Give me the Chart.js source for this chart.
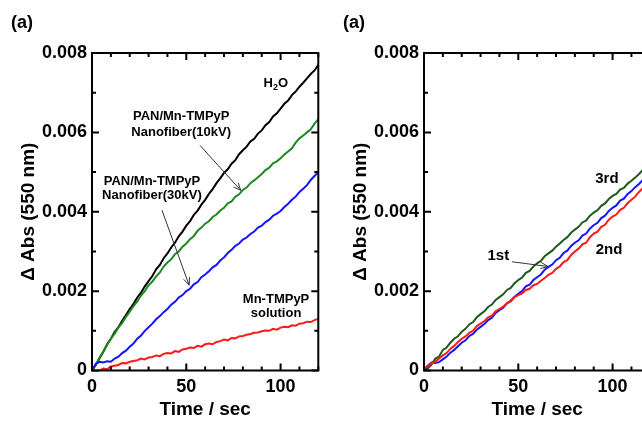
<!DOCTYPE html>
<html><head><meta charset="utf-8">
<script src="https://cdn.jsdelivr.net/npm/chart.js@4"></script>
<style>
html,body{margin:0;padding:0;width:642px;height:423px;overflow:hidden;background:#fff}
.wrap{position:absolute;top:0;width:330px;height:423px}
</style></head><body>
<div class="wrap" style="left:0"><canvas id="c1" width="330" height="423"></canvas></div>
<div class="wrap" style="left:332px"><canvas id="c2" width="330" height="423"></canvas></div>
<script>
// ---- data (ΔAbs values in units of 0.001) ----
const time = [0,2,4,6,8,10,12,14,16,18,20,22,24,26,28,30,32,34,36,38,40,42,44,46,48,50,52,54,56,58,60,
  62,64,66,68,70,72,74,76,78,80,82,84,86,88,90,92,94,96,98,100,102,104,106,108,110,112,114,116,118,120];

// left panel
const h2o = [0,0.14,0.31,0.47,0.66,0.80,0.97,1.09,1.25,1.40,1.55,1.68,1.84,1.96,2.12,2.25,2.38,2.55,2.66,2.83,2.95,
  3.10,3.22,3.38,3.50,3.65,3.76,3.92,4.03,4.18,4.30,4.45,4.57,4.72,4.84,4.98,5.07,5.21,5.30,5.45,5.55,
  5.64,5.77,5.84,5.97,6.05,6.18,6.26,6.40,6.48,6.60,6.72,6.80,6.94,7.03,7.15,7.25,7.36,7.47,7.56,7.70];
const fiber10kV = [0,0.15,0.32,0.48,0.64,0.80,0.93,1.08,1.20,1.35,1.48,1.62,1.74,1.89,2.00,2.15,2.24,2.37,2.47,2.62,2.72,
  2.80,2.93,3.00,3.12,3.20,3.31,3.39,3.52,3.60,3.70,3.76,3.87,3.93,4.03,4.10,4.21,4.26,4.38,4.44,4.55,
  4.61,4.72,4.79,4.87,4.95,5.05,5.11,5.22,5.27,5.35,5.44,5.52,5.60,5.74,5.85,5.92,6.00,6.08,6.22,6.33];
const fiber30kV = [0,0.17,0.22,0.20,0.23,0.22,0.30,0.35,0.44,0.50,0.60,0.68,0.80,0.88,1.00,1.09,1.18,1.29,1.37,1.47,1.55,
  1.66,1.73,1.84,1.90,2.00,2.06,2.17,2.23,2.35,2.42,2.50,2.60,2.66,2.77,2.85,2.96,3.04,3.14,3.20,3.30,
  3.35,3.44,3.50,3.60,3.65,3.74,3.80,3.90,3.95,4.02,4.12,4.20,4.30,4.38,4.50,4.58,4.67,4.80,4.90,5.00];
const solution = [-0.2,-0.1,0.0,0.05,0.03,0.10,0.12,0.14,0.19,0.18,0.22,0.24,0.26,0.30,0.28,0.33,0.34,0.38,0.36,0.42,0.44,
  0.43,0.49,0.47,0.53,0.55,0.58,0.57,0.62,0.60,0.66,0.68,0.66,0.72,0.74,0.78,0.76,0.82,0.81,0.86,0.87,
  0.90,0.92,0.95,0.96,0.99,1.01,1.00,1.05,1.03,1.08,1.10,1.09,1.14,1.13,1.18,1.19,1.23,1.22,1.27,1.30];

// right panel
const run1st = [0,0.12,0.20,0.19,0.21,0.28,0.35,0.45,0.52,0.61,0.70,0.76,0.87,0.92,1.03,1.10,1.17,1.27,1.33,1.45,1.52,
  1.58,1.69,1.76,1.86,1.93,2.00,2.12,2.16,2.28,2.35,2.42,2.54,2.61,2.67,2.78,2.84,2.96,3.02,3.14,3.22,
  3.28,3.40,3.45,3.58,3.66,3.72,3.84,3.90,4.02,4.10,4.16,4.28,4.33,4.45,4.52,4.62,4.70,4.80,4.86,4.95];
const run2nd = [0.05,0.12,0.18,0.22,0.30,0.38,0.44,0.55,0.62,0.72,0.80,0.86,0.95,1.00,1.12,1.18,1.24,1.34,1.38,1.49,1.55,
  1.61,1.70,1.74,1.85,1.90,1.94,2.03,2.06,2.15,2.18,2.26,2.33,2.41,2.46,2.56,2.62,2.73,2.78,2.91,3.00,
  3.07,3.18,3.22,3.36,3.45,3.50,3.62,3.67,3.80,3.88,3.93,4.05,4.10,4.22,4.30,4.38,4.50,4.59,4.66,4.75];
const run3rd = [0,0.05,0.15,0.30,0.35,0.52,0.58,0.70,0.80,0.86,0.98,1.05,1.16,1.22,1.34,1.42,1.49,1.60,1.66,1.78,1.85,
  1.92,2.03,2.08,2.20,2.28,2.34,2.46,2.51,2.62,2.70,2.76,2.88,2.95,3.02,3.12,3.20,3.29,3.36,3.47,3.55,
  3.62,3.73,3.78,3.90,3.98,4.04,4.15,4.21,4.32,4.40,4.45,4.56,4.60,4.71,4.78,4.86,4.95,5.05,5.12,5.20];

const xTickLabels = ['0','50','100'];
const yTickLabels = ['0','0.002','0.004','0.006','0.008'];
const xTitle = 'Time / sec';
const yTitle = 'Δ Abs (550 nm)';

// ---- helpers ----
const FONT = '"Liberation Sans", Arial, Helvetica, sans-serif';
Chart.defaults.color = '#000';
Chart.defaults.font.family = FONT;

const toPts = arr => arr.map((v, i) => ({x: time[i], y: v / 1000}));

function drawArrow(ctx, x1, y1, x2, y2) {
  ctx.save();
  ctx.strokeStyle = '#333'; ctx.lineWidth = 1;
  ctx.beginPath(); ctx.moveTo(x1, y1); ctx.lineTo(x2, y2); ctx.stroke();
  const ang = Math.atan2(y2 - y1, x2 - x1), L = 8, w = 0.4;
  ctx.beginPath();
  ctx.moveTo(x2 - L * Math.cos(ang - w), y2 - L * Math.sin(ang - w));
  ctx.lineTo(x2, y2);
  ctx.lineTo(x2 - L * Math.cos(ang + w), y2 - L * Math.sin(ang + w));
  ctx.stroke();
  ctx.restore();
}

const decor = {
  id: 'decor',
  afterDraw(chart, args, opts) {
    const {ctx, chartArea: a, scales: {x, y}} = chart;
    ctx.save();
    ctx.strokeStyle = '#000'; ctx.lineWidth = 2;
    ctx.beginPath();
    for (let v = 0; v <= 120; v += 10) {
      const px = x.getPixelForValue(v), L = v % 50 === 0 ? 7 : 4;
      ctx.moveTo(px, a.bottom); ctx.lineTo(px, a.bottom - L);
      ctx.moveTo(px, a.top); ctx.lineTo(px, a.top + L);
    }
    for (let i = 0; i <= 8; i++) {
      const py = y.getPixelForValue(i / 1000), L = i % 2 === 0 ? 7 : 4;
      ctx.moveTo(a.left, py); ctx.lineTo(a.left + L, py);
      ctx.moveTo(a.right, py); ctx.lineTo(a.right - L, py);
    }
    ctx.stroke();
    ctx.strokeRect(a.left, a.top, a.width, a.height);
    // panel label
    ctx.fillStyle = '#000';
    ctx.font = 'bold 18px ' + FONT;
    ctx.textAlign = 'left'; ctx.textBaseline = 'middle';
    ctx.fillText('(a)', 11, 23);
    // annotations
    (opts.texts || []).forEach(t => {
      ctx.font = 'bold ' + t.size + 'px ' + FONT;
      ctx.textAlign = 'center'; ctx.textBaseline = 'middle';
      const px = x.getPixelForValue(t.x), py = y.getPixelForValue(t.y / 1000);
      if (t.sub) {
        ctx.textAlign = 'left';
        const f1 = 'bold ' + t.size + 'px ' + FONT, f2 = 'bold ' + Math.round(t.size * 0.7) + 'px ' + FONT;
        ctx.font = f1; const w1 = ctx.measureText(t.text[0]).width, w3 = ctx.measureText(t.text[2]).width;
        ctx.font = f2; const w2 = ctx.measureText(t.text[1]).width;
        let sx = px - (w1 + w2 + w3) / 2;
        ctx.font = f1; ctx.fillText(t.text[0], sx, py);
        ctx.font = f2; ctx.fillText(t.text[1], sx + w1, py + 4);
        ctx.font = f1; ctx.fillText(t.text[2], sx + w1 + w2, py);
      } else {
        ctx.fillText(t.text, px, py);
      }
    });
    (opts.arrows || []).forEach(r => {
      drawArrow(ctx, x.getPixelForValue(r[0]), y.getPixelForValue(r[1] / 1000),
                     x.getPixelForValue(r[2]), y.getPixelForValue(r[3] / 1000));
    });
    ctx.restore();
  }
};

function makeChart(id, datasets, texts, arrows) {
  return new Chart(document.getElementById(id), {
    type: 'line',
    data: {datasets},
    plugins: [decor],
    options: {
      responsive: false, animation: false,
      layout: {padding: {top: 53, right: 11.7, left: 0, bottom: 0}},
      elements: {point: {radius: 0}, line: {tension: 0, borderWidth: 2}},
      plugins: {legend: {display: false}, tooltip: {enabled: false}, decor: {texts, arrows}},
      scales: {
        x: {
          type: 'linear', min: 0, max: 120,
          grid: {display: false, drawTicks: false}, border: {display: false},
          ticks: {stepSize: 50, includeBounds: false, maxRotation: 0, padding: 6,
                  font: {size: 18, weight: 'bold'},
                  callback: (v, i) => xTickLabels[i]},
          title: {display: true, text: xTitle, font: {size: 19, weight: 'bold'}, padding: {top: 0, bottom: 2}},
          afterFit(s) { s.height = 52.5; }
        },
        y: {
          type: 'linear', min: 0, max: 0.008,
          grid: {display: false, drawTicks: false}, border: {display: false},
          ticks: {stepSize: 0.002, padding: 5, font: {size: 18, weight: 'bold'},
                  callback: (v, i) => yTickLabels[i]},
          title: {display: true, text: yTitle, font: {size: 19, weight: 'bold'}, padding: {top: 17, bottom: 0}},
          afterFit(s) { s.width = 92; }
        }
      }
    }
  });
}

const ds = (d, c) => ({data: toPts(d), borderColor: c, borderWidth: 2, fill: false});

makeChart('c1', [
  ds(solution, '#ff1a1a'),
  ds(fiber30kV, '#1414ff'),
  ds(fiber10kV, '#1e8a1e'),
  ds(h2o, '#000000')
], [
  {text: ['H', '2', 'O'], sub: true, x: 97.5, y: 7.23, size: 13},
  {text: 'PAN/Mn-TMPyP', x: 47.3, y: 6.41, size: 13},
  {text: 'Nanofiber(10kV)', x: 47.3, y: 6.01, size: 13},
  {text: 'PAN/Mn-TMPyP', x: 31.8, y: 4.77, size: 13},
  {text: 'Nanofiber(30kV)', x: 31.8, y: 4.40, size: 13},
  {text: 'Mn-TMPyP', x: 97.6, y: 1.79, size: 13},
  {text: 'solution', x: 97.6, y: 1.44, size: 13}
], [
  [57.3, 5.67, 78.9, 4.54],
  [37.1, 4.04, 51.5, 2.15]
]);

makeChart('c2', [
  ds(run2nd, '#ff1a1a'),
  ds(run1st, '#1414ff'),
  ds(run3rd, '#1e5a1e')
], [
  {text: '3rd', x: 97.0, y: 4.84, size: 15},
  {text: '2nd', x: 98.1, y: 3.04, size: 15},
  {text: '1st', x: 39.4, y: 2.88, size: 15}
], [
  [46.7, 2.74, 65.8, 2.62]
]);
</script>
</body></html>
